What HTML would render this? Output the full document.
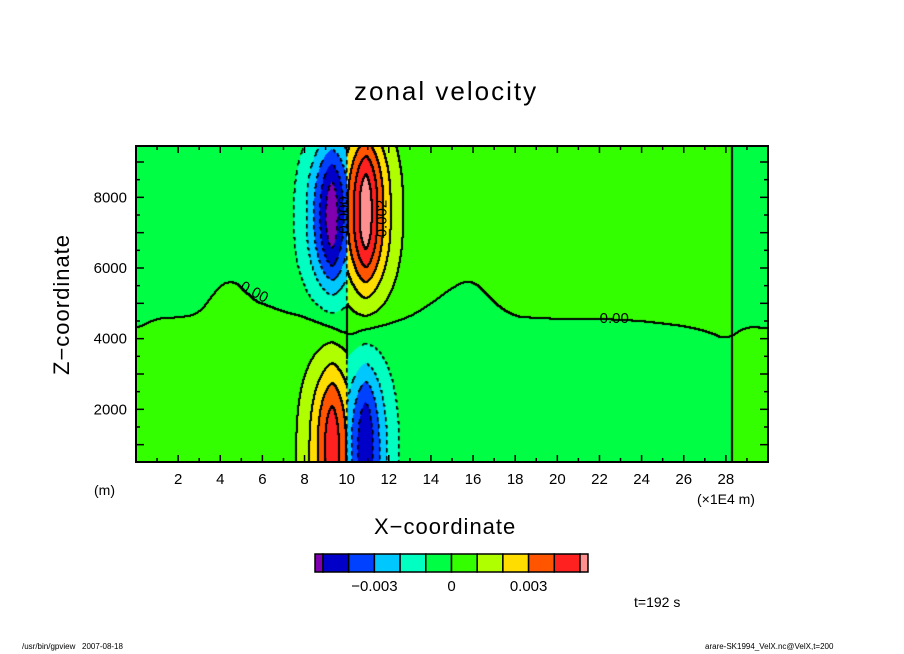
<!DOCTYPE html>
<html><head><meta charset="utf-8">
<style>
body{margin:0;background:#fff;width:904px;height:654px;overflow:hidden;position:relative;font-family:"Liberation Sans",sans-serif;}
.t{position:absolute;white-space:nowrap;color:#000;}
</style></head>
<body>
<div class="t" style="left:354px;top:76px;font-size:26px;letter-spacing:2px;">zonal velocity</div>
<canvas id="cv" width="632" height="316" style="position:absolute;left:136px;top:146px;"></canvas>
<svg id="ax" width="904" height="654" style="position:absolute;left:0;top:0;"></svg>
<div class="t" style="left:94px;top:482px;font-size:14px;">(m)</div>
<div class="t" style="left:697px;top:491px;font-size:14px;">(×1E4 m)</div>
<div class="t" style="left:374px;top:514px;font-size:22px;letter-spacing:1px;">X−coordinate</div>
<div class="t" style="left:-8px;top:292px;font-size:22px;letter-spacing:1px;transform:rotate(-90deg);transform-origin:center;width:140px;text-align:center;">Z−coordinate</div>
<div class="t" style="left:634px;top:594px;font-size:14px;">t=192 s</div>
<div class="t" style="left:22px;top:642px;font-size:8px;">/usr/bin/gpview &nbsp; 2007-08-18</div>
<div class="t" style="left:705px;top:642px;font-size:8px;">arare-SK1994_VelX.nc@VelX,t=200</div>
<script>
// ---- data ----
const levels=[-0.005,-0.004,-0.003,-0.002,-0.001,0,0.001,0.002,0.003,0.004,0.005];
const colors=["#8000b0","#0000c8","#0040ff","#00c8ff","#00ffc0","#00ff44","#33ff00","#b0ff00","#ffdd00","#ff5500","#ff2020","#ff9090"];
const blobX=[9.3,10.9,9.3,10.9];
const blobZ=[7500,7600,500,500];
const blobAmp=[-0.0052,0.0053,0.0043,-0.0045];
const blobSx=[1.08,1.06,1.08,1.0];
const blobSz=[2150,2300,2830,2800];
const blobPz=[2.5,2.5,3,3];
const blobSide=[-1,1,-1,1];
const zeroX=[0,1,2,3,3.8,4.4,5,5.5,7,8,9,10,11,12,13,14,15,15.8,16.5,17,18,20,22,24,26,27,27.6,28,28.3,29,30];
const zeroZ=[4290,4580,4600,4700,5400,5680,5500,5100,4780,4690,4450,3980,4320,4500,4650,5000,5450,5680,5400,5000,4620,4560,4560,4500,4360,4220,4100,3950,4100,4350,4290];
const xTicks=[2,4,6,8,10,12,14,16,18,20,22,24,26,28];
const yTicks=[2000,4000,6000,8000];
const cbLabels=["-0.003","0","0.003"];
const cbLabelVals=[-0.003,0,0.003];
// ---- axes functions ----
const X0=136,X1=768,Y0=146,Y1=462,XMIN=0,XMAX=30,ZMIN=509,ZMAX=9453;
const sx=x=>X0+(x-XMIN)/(XMAX-XMIN)*(X1-X0);
const sy=z=>Y1-(z-ZMIN)/(ZMAX-ZMIN)*(Y1-Y0);
const ix=p=>XMIN+p/(X1-X0)*(XMAX-XMIN);
const iz=p=>ZMAX-p/(Y1-Y0)*(ZMAX-ZMIN);
function z0lin(x){x=Math.max(0,Math.min(30,x));for(let i=0;i<zeroX.length-1;i++){if(x<=zeroX[i+1]){const t=(x-zeroX[i])/(zeroX[i+1]-zeroX[i]);return zeroZ[i]+t*(zeroZ[i+1]-zeroZ[i]);}}return zeroZ[zeroZ.length-1];}
const zc={};
function z0(x){const k=Math.round(x*200);if(zc[k]!==undefined)return zc[k];let s=0,n=0;for(let d=-0.4;d<=0.401;d+=0.1){s+=z0lin(x+d);n++;}return zc[k]=s/n;}
function field(x,z){
  let s1=x<10?-1:(x<28.3?1:-1);
  let f=s1*0.0004*Math.tanh((z-z0(x))/250);
  for(let i=0;i<blobX.length;i++){
    if((blobSide[i]<0&&x>10)||(blobSide[i]>0&&x<10))continue;
    const dx=Math.abs(x-blobX[i])/blobSx[i],dz=Math.abs(z-blobZ[i])/blobSz[i];
    f+=blobAmp[i]*Math.exp(-Math.pow(dx,1.5)-Math.pow(dz,blobPz[i]));
  }
  return f;
}
function lvl(v){let k=0;while(k<levels.length&&v>=levels[k])k++;return k;}
// ---- render field ----
const cv=document.getElementById('cv'),ctx=cv.getContext('2d');
const W=632,H=316;const idx=[];
for(let py=0;py<H;py++){idx[py]=[];for(let px=0;px<W;px++){idx[py][px]=lvl(field(ix(px+0.5),iz(py+0.5)));}}
for(let py=0;py<H;py++)for(let px=0;px<W;px++){ctx.fillStyle=colors[idx[py][px]];ctx.fillRect(px,py,1,1);}
ctx.fillStyle="#000";
for(let py=0;py<H;py++)for(let px=0;px<W;px++){
  const a=idx[py][px];
  const nb=[px+1<W?idx[py][px+1]:a,py+1<H?idx[py+1][px]:a];
  for(const b of nb){if(b!==a){const boundary=Math.min(a,b);const neg=levels[boundary]<0;
    if(neg&&((px+py)>>2)&1)continue;
    ctx.fillRect(px,py,neg?1.5:2,neg?1.5:2);}}
}
// ---- axes svg ----
const NS="http://www.w3.org/2000/svg",ax=document.getElementById('ax');
function el(t,a){const e=document.createElementNS(NS,t);for(const k in a)e.setAttribute(k,a[k]);ax.appendChild(e);return e;}
const fr=el('rect',{x:X0,y:Y0,width:X1-X0,height:Y1-Y0,fill:'none',stroke:'#000','stroke-width':2});


for(let x=1;x<30;x++){const L=x%2===0?7:4;
  el('line',{x1:sx(x),x2:sx(x),y1:Y1,y2:Y1-L,stroke:'#000','stroke-width':1.5});
  el('line',{x1:sx(x),x2:sx(x),y1:Y0,y2:Y0+L,stroke:'#000','stroke-width':1.5});}
for(let z=1000;z<ZMAX;z+=500){const L=z%1000===0?8:4;
  el('line',{x1:X0,x2:X0+L,y1:sy(z),y2:sy(z),stroke:'#000','stroke-width':1.5});
  el('line',{x1:X1,x2:X1-L,y1:sy(z),y2:sy(z),stroke:'#000','stroke-width':1.5});}
xTicks.forEach(v=>{const t=el('text',{x:sx(v),y:484,'text-anchor':'middle','font-size':15,'font-family':'Liberation Sans'});t.textContent=v;
  
  });
yTicks.forEach(v=>{const t=el('text',{x:127,y:sy(v)+5,'text-anchor':'end','font-size':15,'font-family':'Liberation Sans'});t.textContent=v;
  
  });
// contour labels
function lab(txt,x,z,rot){const t=el('text',{x:sx(x),y:sy(z),'font-size':15,'font-family':'Liberation Sans',transform:`rotate(${rot} ${sx(x)} ${sy(z)})`,'text-anchor':'middle','dominant-baseline':'middle'});t.textContent=txt;
  
  }
lab("0.00",5.6,5300,28);lab("0.00",22.7,4550,0);lab("0.002",11.7,7400,-90);lab("0.000",9.9,7500,-90);
// colorbar
const cbx=315,cbw=273,cby=554,cbh=18;const seg=(cbw-16)/10;
const cpos=i=>i===0?cbx:cbx+8+(i-1)*seg;
const cwid=i=>(i===0||i===colors.length-1)?8:seg;
colors.forEach((c,i)=>{const r=el('rect',{x:cpos(i),y:cby,width:cwid(i),height:cbh,fill:c,stroke:'#000','stroke-width':1.5});
  
  });
const lvlX=v=>cbx+8+(levels.indexOf(v))*seg;
cbLabels.forEach((s,i)=>{const t=el('text',{x:lvlX(cbLabelVals[i]),y:591,'text-anchor':'middle','font-size':15,'font-family':'Liberation Sans'});t.textContent=s.replace('-','−');
  
  });
</script>
</body></html>
